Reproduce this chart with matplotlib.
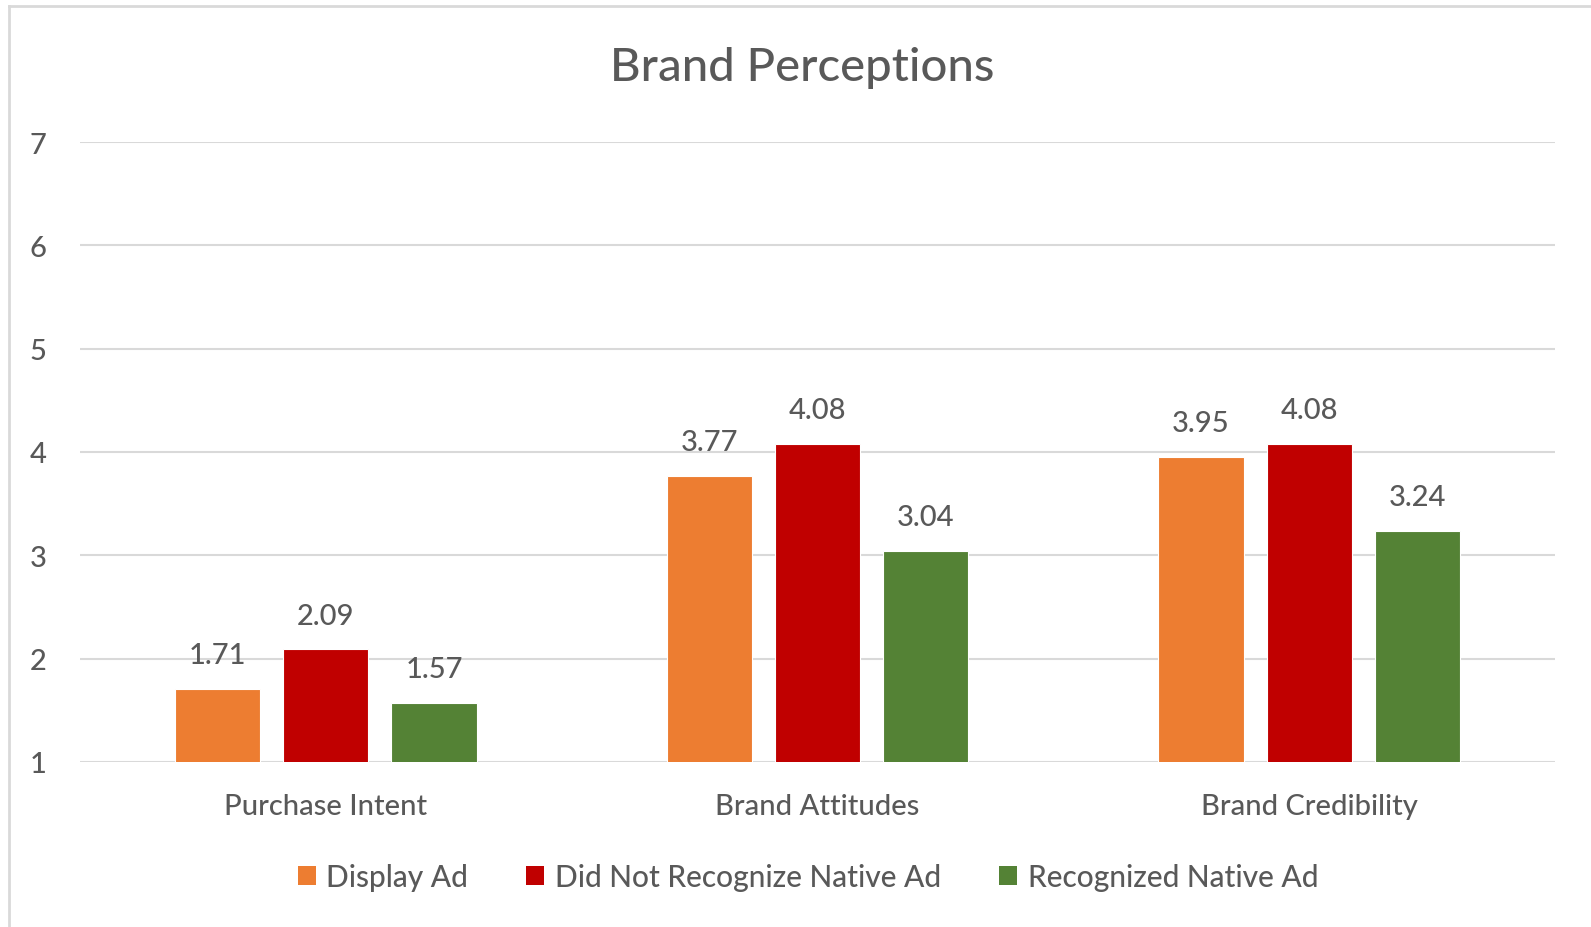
import matplotlib.pyplot as plt
import numpy as np
from matplotlib.lines import Line2D
from matplotlib.patches import Patch

plt.rcParams['font.family'] = ['Lato', 'DejaVu Sans']
plt.rcParams['font.weight'] = 'medium'

categories = ['Purchase Intent', 'Brand Attitudes', 'Brand Credibility']
series = ['Display Ad', 'Did Not Recognize Native Ad', 'Recognized Native Ad']
display_ad = [1.71, 3.77, 3.95]
not_recognized = [2.09, 4.08, 4.08]
recognized = [1.57, 3.04, 3.24]
colors = ['#ed7d31', '#c00000', '#548235']
yticks = [1, 2, 3, 4, 5, 6, 7]

text_col = '#595959'
grid_col = '#d9d9d9'

fig = plt.figure(figsize=(15.91, 9.28), dpi=100)
ax = fig.add_axes([80/1591, 1 - 763/928, 1475/1591, 620/928])

x = np.arange(len(categories))
width = 0.173
step = 0.22
for i, (vals, c) in enumerate(zip([display_ad, not_recognized, recognized], colors)):
    xs = x + (i - 1) * step
    ax.bar(xs, vals, width=width, color=c, edgecolor='white', linewidth=0.8, zorder=3)
    for xi, v in zip(xs, vals):
        ax.annotate(f'{v:.2f}', (xi, v), xytext=(0, 15), textcoords='offset points',
                    ha='center', va='bottom', fontsize=21, color=text_col)

ax.set_xlim(-0.5, 2.5)
ax.set_ylim(1, 7)
ax.set_yticks(yticks)
ax.set_xticks(x)
ax.set_xticklabels(categories)
ax.tick_params(axis='both', length=0, labelsize=21, labelcolor=text_col)
ax.tick_params(axis='y', pad=24)
ax.tick_params(axis='x', pad=22)
ax.grid(axis='y', color=grid_col, linewidth=1.5, zorder=0)
for s in ax.spines.values():
    s.set_visible(False)

fig.text(0.5045, 1 - 68/928, 'Brand Perceptions', ha='center', va='center',
         fontsize=34, color=text_col)

handles = [Patch(facecolor=c, edgecolor='none') for c in colors]
fig.legend(handles, series, loc='center', bbox_to_anchor=(808/1591, 1 - 878/928),
           ncol=3, frameon=False, fontsize=21.5, labelcolor=text_col,
           handlelength=0.6, handleheight=0.6, handletextpad=0.35, columnspacing=1.95)

# outer frame, only left and top edges show
fig.add_artist(Line2D([9/1591, 9/1591], [0, 1 - 7/928], color=grid_col, linewidth=2))
fig.add_artist(Line2D([9/1591, 1], [1 - 7/928, 1 - 7/928], color=grid_col, linewidth=2))

fig.savefig('out.png', dpi=100)
